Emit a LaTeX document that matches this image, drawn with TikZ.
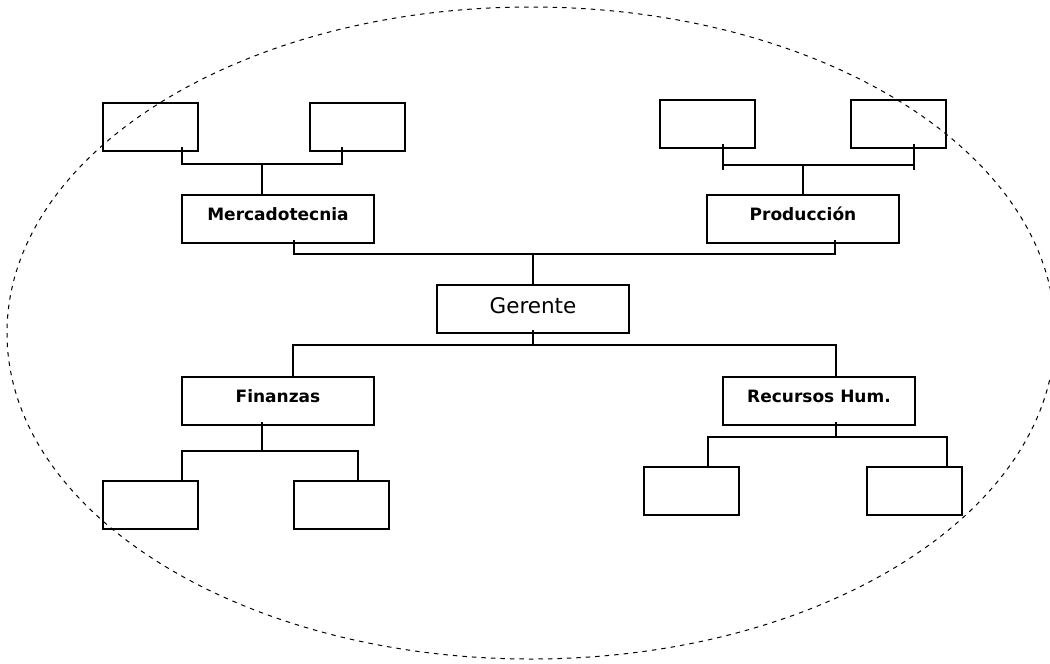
\documentclass[tikz,border=0pt]{standalone}
\usepackage{fontspec}
\setmainfont{DejaVu Sans}
\usetikzlibrary{calc}
\begin{document}
\begin{tikzpicture}[x=1pt,y=-1pt,
  orgbox/.style={draw=black,line width=1.1pt,inner sep=0pt,outer sep=0pt,
    anchor=north west,minimum width=95pt,minimum height=48pt},
  deptbox/.style={orgbox,minimum width=192pt,
    font=\fontsize{17}{20}\selectfont\bfseries,text height=12pt,text depth=10pt},
  headbox/.style={orgbox,minimum width=192pt,
    font=\fontsize{21.5}{24}\selectfont,text height=15pt,text depth=7pt},
  conn/.style={draw=black,line width=1.1pt},
  boundary/.style={draw=black,line width=1pt,dash pattern=on 4.5pt off 5pt}
]
% page
\fill[white] (0,0) rectangle (1050,664);
\useasboundingbox (0,0) rectangle (1050,664);

% dashed boundary of the organisation
\begin{scope}
  \clip (0,0) rectangle (1050,664);
  \draw[boundary] (531,333) ellipse [x radius=524, y radius=326];
\end{scope}

% top level
\node[headbox] (ger) at (437,285) {Gerente};

% departments
\node[deptbox] (merc) at (182,195) {Mercadotecnia};
\node[deptbox] (prod) at (707,195) {Producción};
\node[deptbox] (fin)  at (182,377) {Finanzas};
\node[deptbox] (rh)   at (723,377) {Recursos Hum.};

% empty sub-units
\node[orgbox] (A) at (103,103) {};
\node[orgbox] (B) at (310,103) {};
\node[orgbox] (C) at (660,100) {};
\node[orgbox] (D) at (851,100) {};
\node[orgbox] (E) at (103,481) {};
\node[orgbox] (F) at (294,481) {};
\node[orgbox] (G) at (644,467) {};
\node[orgbox] (H) at (867,467) {};

% Mercadotecnia group
\draw[conn] ($(A.south west)+(79,-4)$) -- ++(0,17) -| ($(B.south west)+(32,-4)$);
\draw[conn] ($(merc.north)+(-16,0)$) -- ++(0,-31);

% Produccion group
\draw[conn] ($(C.south west)+(63,-4)$) -- ++(0,26);
\draw[conn] ($(D.south west)+(63,-4)$) -- ++(0,26);
\draw[conn] ($(C.south west)+(63,17)$) -- ($(D.south west)+(63,17)$);
\draw[conn] (prod.north) -- ++(0,-30);

% Gerente with upper departments
\draw[conn] ($(merc.south)+(16,-3)$) -- ++(0,14) -| ($(prod.south)+(32,-3)$);
\draw[conn] (ger.north) -- ++(0,-31);

% Gerente with lower departments
\draw[conn] ($(ger.south)+(0,-3)$) -- ++(0,15);
\draw[conn] ($(fin.north)+(15,0)$) -- ++(0,-32) -| ($(rh.north)+(17,0)$);

% Finanzas group
\draw[conn] ($(fin.south)+(-16,-3)$) -- ++(0,29);
\draw[conn] ($(E.north)+(31.5,0)$) -- ++(0,-30) -| ($(F.north)+(16.5,0)$);

% Recursos Hum. group
\draw[conn] ($(rh.south)+(17,-3)$) -- ++(0,15);
\draw[conn] ($(G.north)+(16.5,0)$) -- ++(0,-30) -| ($(H.north)+(32.5,0)$);
\end{tikzpicture}
\end{document}
